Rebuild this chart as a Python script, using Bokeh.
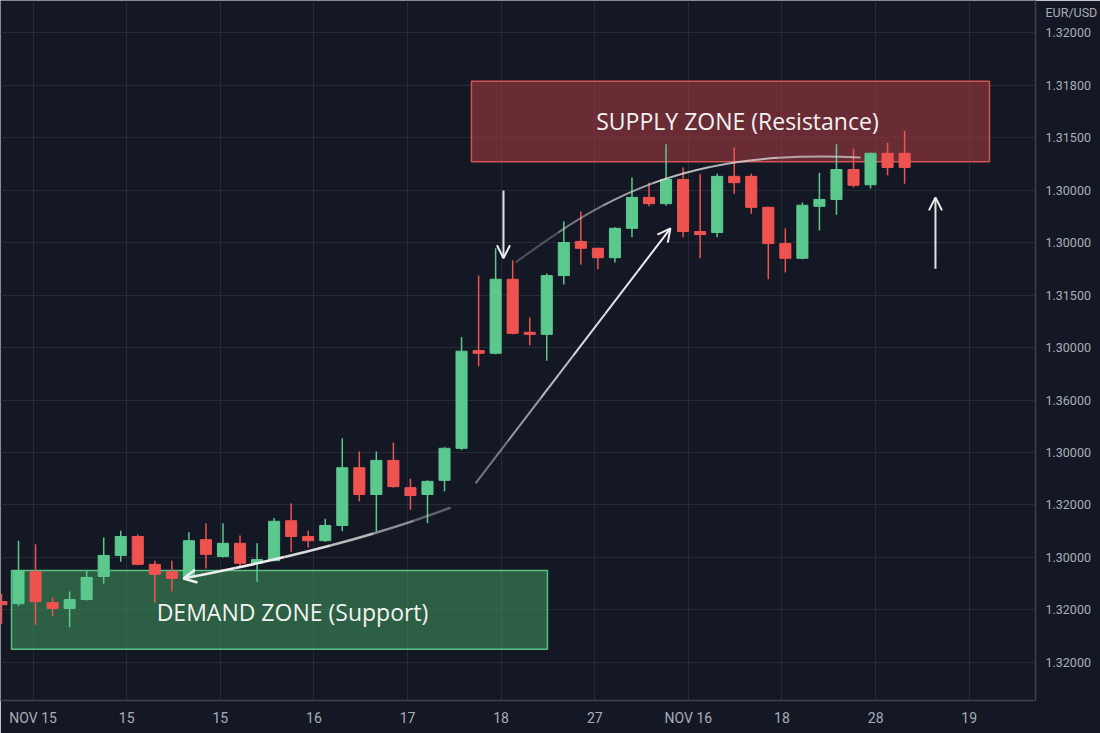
from bokeh.plotting import figure
from bokeh.models import FixedTicker, Range1d, Arrow, OpenHead, Label, ColumnDataSource
from bokeh.embed import file_html
from bokeh.resources import INLINE

# ---------------- data ----------------
candle_idx = list(range(-1, 53))
opens = [1.16, 1.12, 1.73, 1.14, 1.03, 1.20, 1.64, 2.04, 2.40, 1.87,
         1.73, 1.64, 2.34, 2.02, 2.27, 1.89, 1.94, 2.70, 2.40, 2.32,
         2.61, 3.71, 3.20, 3.85, 3.33, 3.20, 3.47, 4.08, 5.94, 5.89,
         7.30, 6.29, 6.25, 7.37, 8.02, 7.89, 7.71, 8.27, 8.86, 8.74,
         9.20, 8.21, 8.19, 9.26, 9.26, 8.67, 7.98, 7.70, 8.69, 8.82,
         9.39, 9.10, 9.70, 9.70]
highs = [1.31, 2.32, 2.25, 1.24, 1.35, 1.75, 2.38, 2.51, 2.44, 1.94,
         1.94, 2.48, 2.65, 2.65, 2.42, 2.27, 2.75, 3.03, 2.51, 2.74,
         4.27, 4.02, 4.02, 4.19, 3.50, 3.47, 4.10, 6.20, 7.37, 7.89,
         7.66, 6.57, 7.41, 8.40, 8.59, 7.90, 8.29, 9.24, 9.14, 9.87,
         9.43, 9.30, 9.31, 9.81, 9.31, 8.68, 8.27, 8.76, 9.33, 9.87,
         9.79, 9.71, 9.90, 10.13]
lows = [0.74, 1.07, 0.72, 0.88, 0.67, 1.18, 1.50, 1.92, 1.85, 1.14,
        1.35, 1.62, 1.79, 2.00, 1.81, 1.54, 1.93, 2.11, 2.19, 2.30,
        2.50, 3.07, 2.50, 3.33, 2.91, 2.65, 3.26, 4.05, 5.64, 5.87,
        6.25, 6.04, 5.75, 7.20, 7.58, 7.49, 7.62, 8.10, 8.69, 8.70,
        8.10, 7.70, 8.10, 8.93, 8.55, 7.30, 7.43, 7.68, 8.23, 8.53,
        9.05, 9.03, 9.28, 9.12]
closes = [1.10, 1.75, 1.16, 1.03, 1.20, 1.62, 2.04, 2.40, 1.87, 1.68,
          1.60, 2.32, 2.06, 2.27, 1.89, 1.96, 2.69, 2.40, 2.32, 2.61,
          3.71, 3.20, 3.85, 3.35, 3.18, 3.45, 4.08, 5.93, 5.89, 7.30,
          6.27, 6.25, 7.37, 8.00, 7.89, 7.71, 8.27, 8.86, 8.74, 9.20,
          8.21, 8.15, 9.26, 9.14, 8.67, 7.98, 7.70, 8.71, 8.82, 9.39,
          9.09, 9.70, 9.43, 9.43]

y_levels = [0, 1, 2, 3, 4, 5, 6, 7, 8, 9, 10, 11, 12]
y_labels = ["1.32000", "1.32000", "1.30000", "1.32000", "1.30000", "1.36000",
            "1.30000", "1.31500", "1.30000", "1.30000", "1.31500", "1.31800",
            "1.32000"]
pair_label = "EUR/USD"
pair_level = 12.38

x_ticks = [0.86, 6.35, 11.84, 17.34, 22.83, 28.32, 33.82, 39.31, 44.80, 50.30, 55.79]
x_labels = ["NOV 15", "15", "15", "16", "17", "18", "27", "NOV 16", "18", "28", "19"]

# zones: left, right, bottom, top (candle index / level units)
supply_zone = [26.58, 56.98, 9.54, 11.07]
demand_zone = [-0.41, 31.04, 0.25, 1.75]
supply_text = "SUPPLY ZONE (Resistance)"
demand_text = "DEMAND ZONE (Support)"
supply_text_pos = [42.19, 10.31]
demand_text_pos = [16.08, 0.97]

# annotation curves / arrows (control points)
demand_curve = [(25.35, 2.95), (19.1, 2.18), (9.68, 1.60)]
top_curve = [(29.17, 7.62), (34.15, 8.80), (38.85, 9.79), (49.41, 9.62)]
rise_arrow = [(26.82, 3.41), (38.26, 8.27)]
down_arrow = [(28.46, 8.99), (28.46, 7.70)]
up_arrow = [(53.81, 7.50), (53.81, 8.86)]

# ---------------- style ----------------
BG = "#141824"
GRID = "#252a36"
AXIS = "#3c414e"
TXT = "#a9adb8"
UP = "#5bc98e"
DOWN = "#ef5350"
WHITE = "#eeeeee"

p = figure(width=1100, height=733,
           x_range=Range1d(-1.056, 59.68), y_range=Range1d(-0.724, 12.61),
           y_axis_location="right", output_backend="svg", toolbar_location=None,
           min_border_left=0, min_border_top=0, min_border_right=65, min_border_bottom=33,
           background_fill_color=BG, border_fill_color=BG, outline_line_color=None)

# grid
p.xgrid.ticker = FixedTicker(ticks=x_ticks)
p.ygrid.ticker = FixedTicker(ticks=y_levels)
p.xgrid.grid_line_color = GRID
p.ygrid.grid_line_color = GRID

# axes
p.xaxis.ticker = FixedTicker(ticks=x_ticks)
p.xaxis.major_label_overrides = {t: l for t, l in zip(x_ticks, x_labels)}
y_over = {t: l for t, l in zip(y_levels, y_labels)}
y_over[pair_level] = pair_label
p.yaxis.ticker = FixedTicker(ticks=y_levels + [pair_level])
p.yaxis.major_label_overrides = y_over
for ax in (p.xaxis, p.yaxis):
    ax.axis_line_color = AXIS
    ax.axis_line_width = 1.5
    ax.major_tick_line_color = None
    ax.minor_tick_line_color = None
    ax.major_tick_out = 0
    ax.major_tick_in = 0
    ax.minor_tick_out = 0
    ax.major_label_text_color = TXT
    ax.major_label_text_font = "Roboto"
p.yaxis.major_label_text_font_size = "12.5px"
p.yaxis.major_label_standoff = 10
p.xaxis.major_label_text_font_size = "14px"
p.xaxis.major_label_standoff = 9

# zones
p.quad(left=[demand_zone[0]], right=[demand_zone[1]], bottom=[demand_zone[2]], top=[demand_zone[3]],
       fill_color="#3f9a5c", fill_alpha=0.55, line_color="#5fcf8f", line_width=1.5, line_alpha=0.9)
p.quad(left=[supply_zone[0]], right=[supply_zone[1]], bottom=[supply_zone[2]], top=[supply_zone[3]],
       fill_color="#a33a40", fill_alpha=0.6, line_color="#e05a58", line_width=1.5, line_alpha=0.9)

# candles
colors = [UP if c >= o else DOWN for o, c in zip(opens, closes)]
src = ColumnDataSource(dict(
    x=candle_idx, o=opens, h=highs, l=lows, c=closes,
    top=[max(o, c) for o, c in zip(opens, closes)],
    bot=[min(o, c) for o, c in zip(opens, closes)],
    color=colors))
p.segment(x0="x", y0="h", x1="x", y1="l", source=src, line_color="color", line_width=1.5)
p.vbar(x="x", top="top", bottom="bot", width=0.65, source=src,
       fill_color="color", line_color="color", line_width=1)


# ---- helper: sub-curve control points by blossoming (for faded curves) ----
def blossom(pts, ts):
    pts = list(pts)
    for t in ts:
        pts = [((1 - t) * a[0] + t * b[0], (1 - t) * a[1] + t * b[1]) for a, b in zip(pts[:-1], pts[1:])]
    return pts[0]


def faded_curve(pts, alphas, color, width):
    n = len(alphas)
    deg = len(pts) - 1
    for k, al in enumerate(alphas):
        t0, t1 = k / n, (k + 1) / n
        cps = [blossom(pts, [t0] * (deg - j) + [t1] * j) for j in range(deg + 1)]
        if deg == 2:
            p.quadratic(x0=[cps[0][0]], y0=[cps[0][1]], x1=[cps[2][0]], y1=[cps[2][1]],
                        cx=[cps[1][0]], cy=[cps[1][1]], line_color=color, line_width=width, line_alpha=al)
        elif deg == 3:
            p.bezier(x0=[cps[0][0]], y0=[cps[0][1]], x1=[cps[3][0]], y1=[cps[3][1]],
                     cx0=[cps[1][0]], cy0=[cps[1][1]], cx1=[cps[2][0]], cy1=[cps[2][1]],
                     line_color=color, line_width=width, line_alpha=al)
        else:
            p.line(x=[cps[0][0], cps[1][0]], y=[cps[0][1], cps[1][1]],
                   line_color=color, line_width=width, line_alpha=al)


faded_curve(demand_curve, [0.35, 0.55, 0.75, 0.9, 1.0, 1.0], WHITE, 2.5)
p.add_layout(Arrow(end=OpenHead(size=13, line_color=WHITE, line_width=2.5),
                   x_start=demand_curve[1][0], y_start=demand_curve[1][1],
                   x_end=demand_curve[2][0], y_end=demand_curve[2][1], line_alpha=0))
faded_curve(top_curve, [0.3, 0.5, 0.7, 0.85, 0.8, 0.7], "#d8d8d8", 2)
faded_curve(rise_arrow, [0.45, 0.6, 0.75, 0.9, 0.95, 1.0], WHITE, 2)
p.add_layout(Arrow(end=OpenHead(size=13, line_color=WHITE, line_width=2),
                   x_start=rise_arrow[0][0], y_start=rise_arrow[0][1],
                   x_end=rise_arrow[1][0], y_end=rise_arrow[1][1], line_alpha=0))
for a in (down_arrow, up_arrow):
    p.add_layout(Arrow(end=OpenHead(size=13, line_color=WHITE, line_width=2),
                       x_start=a[0][0], y_start=a[0][1], x_end=a[1][0], y_end=a[1][1],
                       line_color=WHITE, line_width=2, line_alpha=0.95))

# zone labels
p.add_layout(Label(x=supply_text_pos[0], y=supply_text_pos[1], text=supply_text,
                   text_align="center", text_baseline="middle", text_color="#f2f2f2",
                   text_font="Open Sans", text_font_size="23px"))
p.add_layout(Label(x=demand_text_pos[0], y=demand_text_pos[1], text=demand_text,
                   text_align="center", text_baseline="middle", text_color="#f2f2f2",
                   text_font="Open Sans", text_font_size="23px"))

open("out.html", "w").write(file_html(p, INLINE))
